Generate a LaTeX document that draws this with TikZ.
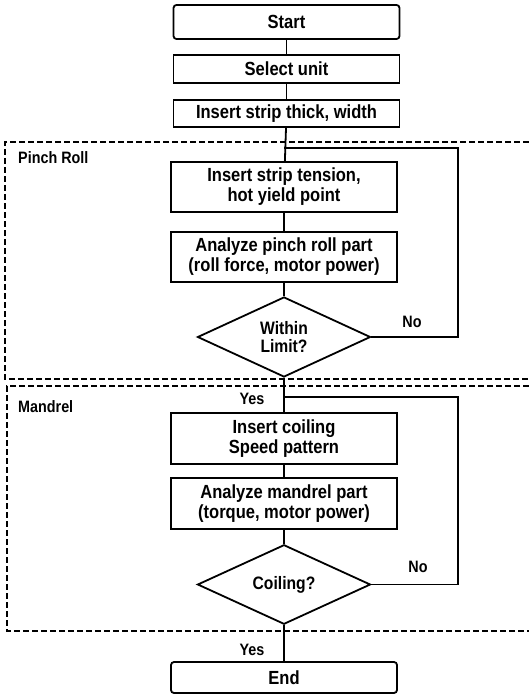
\documentclass[tikz,border=0pt]{standalone}
\usepackage{fontspec}
\setmainfont[FakeStretch=0.87]{Liberation Sans}
\usetikzlibrary{shapes.geometric}
\begin{document}
\begin{tikzpicture}[x=1pt,y=-1pt,
  every node/.style={font=\bfseries\fontsize{19}{20}\selectfont},
  box/.style={draw, line width=1.8pt, minimum width=226pt, align=center, inner sep=0pt},
  term/.style={box, rounded corners=3pt},
  dec/.style={draw, diamond, line width=1.8pt, minimum width=173pt, inner sep=0pt, align=center, font=\bfseries\fontsize{18}{18}\selectfont},
  conn/.style={line width=1.8pt},
  zone/.style={line width=1.2pt, dash pattern=on 6pt off 3pt},
  lbl/.style={inner sep=0pt, font=\bfseries\fontsize{16.5}{17}\selectfont}]
\useasboundingbox (0,0) rectangle (529,695);
% zones
\draw[zone] (529,142) -- (5,142) -- (5,379) -- (529,379);
\draw[zone] (529,386) -- (7,386) -- (7,631) -- (529,631);
\node[lbl, anchor=west] (pr) at (18,158) {Pinch Roll};
\node[lbl, anchor=west] (md) at (18,407) {Mandrel};
% nodes
\node[term, minimum height=34pt] (start) at (286.5,22) {Start};
\node[box, minimum height=28pt] (sel) at (286.5,69) {Select unit};
\node[box, minimum height=27pt] (ins) at (286.5,113.5) {Insert strip thick, width};
\node[box, minimum height=50pt] (ten) at (284,187) {Insert strip tension,\\hot yield point};
\node[box, minimum height=50pt] (anp) at (284,257) {Analyze pinch roll part\\(roll force, motor power)};
\node[dec, minimum height=80pt] (lim) at (284,337) {Within\\Limit?};
\node[box, minimum height=51pt] (coil) at (284,438.5) {Insert coiling\\Speed pattern};
\node[box, minimum height=51pt] (anm) at (284,503.5) {Analyze mandrel part\\(torque, motor power)};
\node[dec, minimum height=75pt] (cq) at (284,584.5) {Coiling?};
\node[term, minimum height=31pt] (end) at (284,677.5) {End};
% connectors
\draw[conn] (start) -- (sel);
\draw[conn] (sel) -- (ins);
\draw[conn] (ins) -- (ten);
\draw[conn] (ten) -- (anp);
\draw[conn] (anp) -- (lim);
\draw[conn] (lim) -- (coil);
\draw[conn] (coil) -- (anm);
\draw[conn] (anm) -- (cq);
\draw[conn] (cq) -- (end);
\coordinate (j1) at (284,148);
\coordinate (r1) at (458,148);
\coordinate (j2) at (284,397);
\coordinate (r2) at (458,397);
\draw[conn] (lim.east) -| (r1) -- (j1);
\draw[conn] (cq.east) -| (r2) -- (j2);
% labels
\node[lbl] (no1) at (412,322) {No};
\node[lbl] (yes1) at (252,399) {Yes};
\node[lbl] (no2) at (418,567) {No};
\node[lbl] (yes2) at (252,650) {Yes};
\end{tikzpicture}
\end{document}
